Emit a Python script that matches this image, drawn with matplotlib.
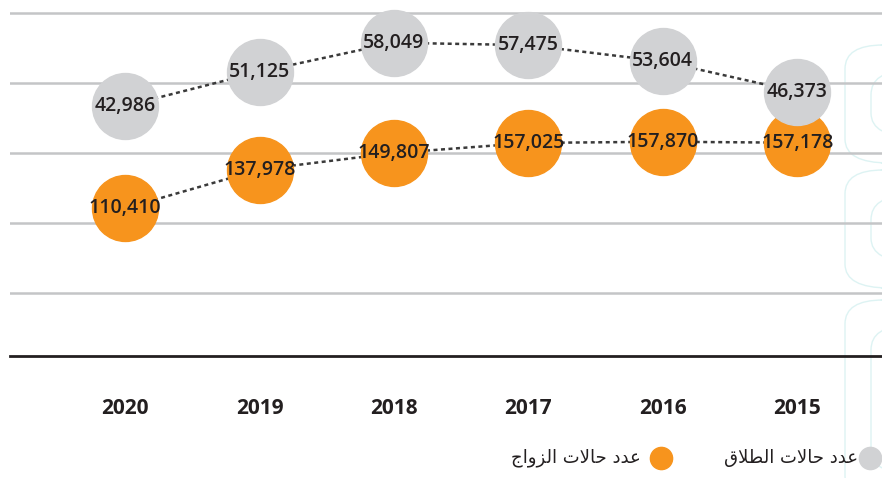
import matplotlib.pyplot as plt
from matplotlib.patches import FancyBboxPatch

# البيانات
years = ["2020", "2019", "2018", "2017", "2016", "2015"]
marriages = [110410, 137978, 149807, 157025, 157870, 157178]
divorces = [42986, 51125, 58049, 57475, 53604, 46373]

# نصوص الدليل (بأشكال العرض العربية، بترتيب بصري)
label_divorce = "\uFED5\uFEFC\uFEC4\uFEDF\uFE8D \uFE95\uFEFB\uFE8E\uFEA3 \uFEA9\uFEAA\uFECB"
label_marriage = "\uFE9D\uFE8D\uFEED\uFEB0\uFEDF\uFE8D \uFE95\uFEFB\uFE8E\uFEA3 \uFEA9\uFEAA\uFECB"

orange = "#F7941D"
grey = "#D1D2D4"
ink = "#231F20"

plt.rcParams['font.family'] = ['Open Sans', 'DejaVu Sans']

fig = plt.figure(figsize=(8.82, 4.78), dpi=100)

# زخرفة خفيفة في الخلفية على اليمين
for top, h in [(45, 118), (170, 118), (300, 200)]:
    for inset in (0, 26):
        fig.patches.append(FancyBboxPatch(
            ((845 + inset) / 882, 1 - (top + h - inset) / 478),
            80 / 882, (h - 2 * inset) / 478,
            boxstyle="round,pad=0,rounding_size=0.05",
            transform=fig.transFigure, fill=False,
            edgecolor='#DDF3F3', lw=1, zorder=-5))

ax = fig.add_axes([10 / 882, 1 - 356 / 478, 872 / 882, 356 / 478])
ax.patch.set_alpha(0)
ax2 = ax.twinx()

x = list(range(len(years)))

# محور الزواج مع خطوط الشبكة
ax.set_ylim(5000, 259000)
ax.set_yticks([50000, 100000, 150000, 200000, 250000])
ax.grid(axis='y', color='#C4C5C7', lw=1.8)
ax.set_xlim(-0.856, 5.63)
ax.set_xticks(x)
ax.set_xticklabels(years, fontsize=15, fontweight='bold', color=ink)
ax.tick_params(axis='x', length=0, pad=30)
ax.tick_params(axis='y', length=0, labelleft=False)
for s in ['top', 'left', 'right']:
    ax.spines[s].set_visible(False)
ax.spines['bottom'].set_color(ink)
ax.spines['bottom'].set_linewidth(2)

ax2.set_ylim(-16538, 68224)
ax2.set_yticks([])
for s in ax2.spines.values():
    s.set_visible(False)

dash = (0, (1.6, 1.4))
ax2.plot(x, divorces, color='#3A3A3A', lw=1.8, linestyle=dash, zorder=1)
ax2.plot(x, divorces, 'o', color=grey, markersize=47.5, zorder=2, clip_on=False)
ax.plot(x, marriages, color='#3A3A3A', lw=1.8, linestyle=dash, zorder=1)
ax.plot(x, marriages, 'o', color=orange, markersize=47.5, zorder=2, clip_on=False)

for xi, v in zip(x, divorces):
    ax2.text(xi, v, f"{v:,}", ha='center', va='center', fontsize=14,
             fontweight='semibold', color=ink, zorder=5)
for xi, v in zip(x, marriages):
    ax.text(xi, v, f"{v:,}", ha='center', va='center', fontsize=14,
            fontweight='semibold', color=ink, zorder=5)

# الدليل
ax.plot([870 / 882], [1 - 458 / 478], 'o', color=grey, markersize=16,
        transform=fig.transFigure, clip_on=False)
ax.plot([661 / 882], [1 - 458 / 478], 'o', color=orange, markersize=16,
        transform=fig.transFigure, clip_on=False)
fig.text(858 / 882, 1 - 458 / 478, label_divorce, ha='right', va='center',
         fontsize=13, color=ink, family='DejaVu Sans')
fig.text(641 / 882, 1 - 458 / 478, label_marriage, ha='right', va='center',
         fontsize=13, color=ink, family='DejaVu Sans')

fig.savefig("out.png", dpi=100)
